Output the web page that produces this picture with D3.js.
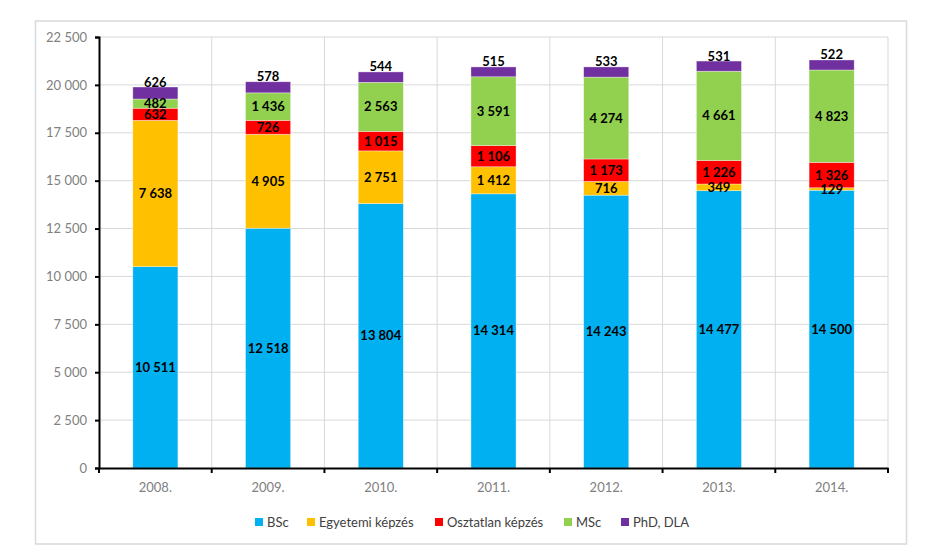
<!DOCTYPE html>
<html>
<head>
<meta charset="utf-8">
<script src="https://cdn.jsdelivr.net/npm/d3@7"></script>
<style>
  html, body { margin: 0; padding: 0; background: #fff; }
  svg { display: block; font-family: Lato, "Open Sans", sans-serif; }
</style>
</head>
<body>
<svg id="chart" width="945" height="558"></svg>
<script>
const years = ["2008.", "2009.", "2010.", "2011.", "2012.", "2013.", "2014."];
const seriesNames = ["BSc", "Egyetemi képzés", "Osztatlan képzés", "MSc", "PhD, DLA"];
const seriesColors = ["#00B0F0", "#FFC000", "#FF0000", "#92D050", "#7030A0"];
const bsc = [10511, 12518, 13804, 14314, 14243, 14477, 14500];
const egyetemi = [7638, 4905, 2751, 1412, 716, 349, 129];
const osztatlan = [632, 726, 1015, 1106, 1173, 1226, 1326];
const msc = [482, 1436, 2563, 3591, 4274, 4661, 4823];
const phd = [626, 578, 544, 515, 533, 531, 522];
const yTicks = [0, 2500, 5000, 7500, 10000, 12500, 15000, 17500, 20000, 22500];

(function () {
const seriesValues = [bsc, egyetemi, osztatlan, msc, phd];
const keys = seriesNames;
const table = years.map((yr, i) => {
  const row = { year: yr };
  keys.forEach((k, j) => row[k] = seriesValues[j][i]);
  return row;
});

const svg = d3.select("#chart");
const locale = d3.formatLocale({ decimal: ",", thousands: " ", grouping: [3], currency: ["", " Ft"] });
const fmt = locale.format(",d");

const pL = 99, pR = 888, pT = 37, pB = 468;

// outer frame
svg.append("rect").attr("x", 35.5).attr("y", 21).attr("width", 871).attr("height", 523)
  .attr("fill", "#fff").attr("stroke", "#d9d9d9").attr("stroke-width", 1.5);

const x = d3.scaleBand().domain(years).range([pL, pR]).paddingInner(0.6).paddingOuter(0.3);
const xb = d3.scaleBand().domain(years).range([pL, pR]);
const y = d3.scaleLinear().domain([0, 22500]).range([pB, pT]);

// horizontal gridlines
svg.append("g").selectAll("line").data(yTicks.filter(t => t > 0)).join("line")
  .attr("x1", pL).attr("x2", pR)
  .attr("y1", d => y(d)).attr("y2", d => y(d))
  .attr("stroke", "#d9d9d9").attr("stroke-width", 1);

// vertical gridlines at category boundaries
svg.append("g").selectAll("line").data(years).join("line")
  .attr("x1", d => xb(d) + xb.bandwidth()).attr("x2", d => xb(d) + xb.bandwidth())
  .attr("y1", pT).attr("y2", pB)
  .attr("stroke", "#d9d9d9").attr("stroke-width", 1);

const stack = d3.stack().keys(keys)(table);

const groups = svg.append("g").selectAll("g").data(stack).join("g")
  .attr("fill", (d, i) => seriesColors[i]);

groups.selectAll("rect").data(d => d).join("rect")
  .attr("x", d => x(d.data.year))
  .attr("width", x.bandwidth())
  .attr("y", d => y(d[1]))
  .attr("height", d => y(d[0]) - y(d[1]))
  .attr("stroke", "#ffffff").attr("stroke-opacity", 0.5).attr("stroke-width", 0.7);

// labels
stack.forEach((s, si) => {
  svg.append("g").selectAll("text").data(s).join("text")
    .attr("x", d => x(d.data.year) + x.bandwidth() / 2)
    .attr("y", d => si === keys.length - 1 ? y(d[1]) - 0.5 : (y(d[0]) + y(d[1])) / 2)
    .attr("dy", si === keys.length - 1 ? "0" : "0.35em")
    .attr("text-anchor", "middle")
    .attr("font-size", 13).attr("font-weight", "bold").attr("fill", "#000")
    .text(d => fmt(d[1] - d[0]));
});

// y axis
const yAxis = d3.axisLeft(y).tickValues(yTicks).tickSize(4).tickPadding(8).tickFormat(fmt);
const ya = svg.append("g").attr("transform", `translate(${pL},0)`).call(yAxis);
ya.select(".domain").attr("stroke", "#000").attr("stroke-width", 2);
ya.selectAll(".tick line").attr("stroke", "#000").attr("stroke-width", 2);
ya.selectAll(".tick text").attr("fill", "#808080").attr("font-size", 13)
  .attr("font-family", "Lato, 'Open Sans', sans-serif");

// x axis
const xAxis = d3.axisBottom(xb).tickSize(0).tickPadding(15);
const xa = svg.append("g").attr("transform", `translate(0,${pB})`).call(xAxis);
xa.select(".domain").attr("stroke", "#000").attr("stroke-width", 2);
xa.selectAll(".tick text").attr("fill", "#808080").attr("font-size", 13)
  .attr("font-family", "Lato, 'Open Sans', sans-serif");
// boundary tick marks
svg.append("g").selectAll("line").data([pL].concat(years.map(d => xb(d) + xb.bandwidth()))).join("line")
  .attr("x1", d => d).attr("x2", d => d)
  .attr("y1", pB).attr("y2", pB + 5)
  .attr("stroke", "#000").attr("stroke-width", 2);

// legend
const legendX = [255, 307, 435, 564, 621];
const lg = svg.append("g").selectAll("g").data(seriesNames).join("g")
  .attr("transform", (d, i) => `translate(${legendX[i]},522)`);
lg.append("rect").attr("x", 0).attr("y", -4).attr("width", 8).attr("height", 8)
  .attr("fill", (d, i) => seriesColors[i]);
lg.append("text").attr("x", 12).attr("y", 0).attr("dy", "0.35em")
  .attr("font-size", 13).attr("fill", "#404040").text(d => d);
})();
</script>
</body>
</html>
